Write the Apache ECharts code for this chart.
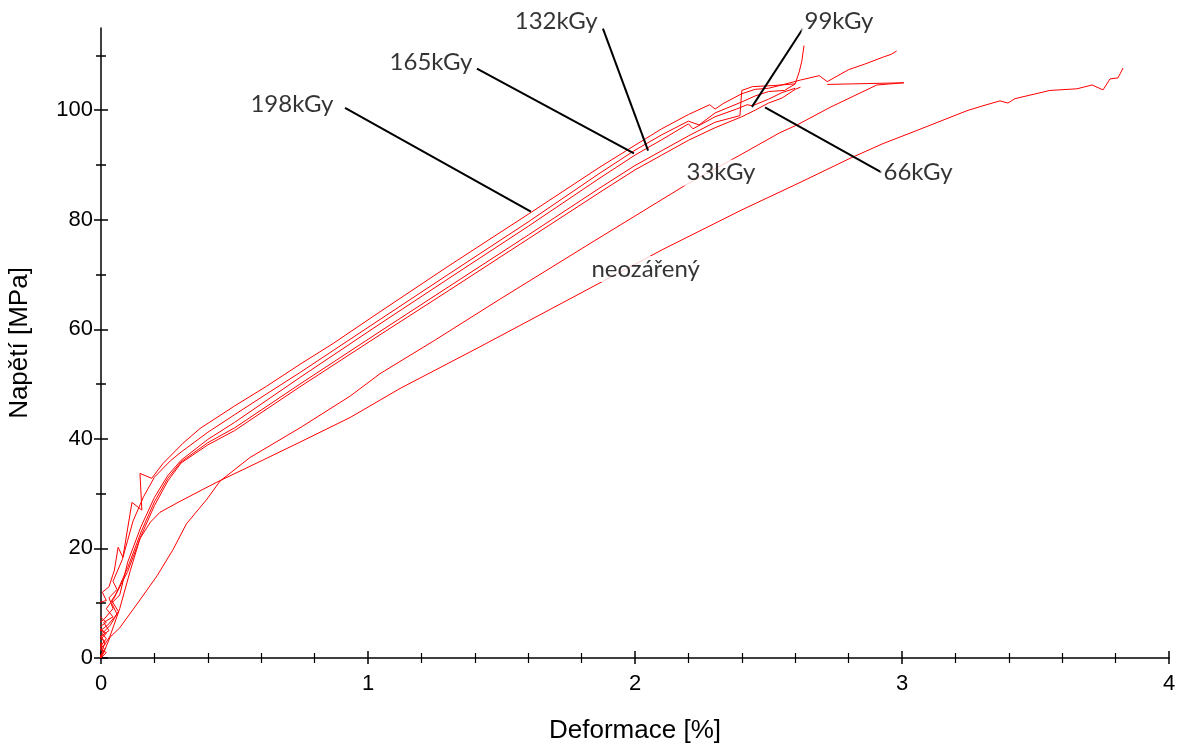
<!DOCTYPE html>
<html>
<head>
<meta charset="utf-8">
<title>Napětí - deformace</title>
<script src="https://cdn.jsdelivr.net/npm/echarts@6.0.0/dist/echarts.min.js"></script>
<style>
    html, body { margin: 0; padding: 0; background: #fff; }
    #main { width: 1181px; height: 746px; }
</style>
</head>
<body>
<div id="main"></div>
<script>
    // krivky [deformace %, napeti MPa]
    var curve198 = [[0,0],[-0.025,1.2],[0.005,2.5],[-0.02,3.2],[0.015,4.5],[-0.01,5.5],[0.02,6.5],[-0.025,8.5],[-0.015,10.0],[0.02,10.5],[0.005,12.0],[0.03,13.0],[0.05,16.0],[0.064,20.2],[0.082,18.4],[0.1,23.7],[0.116,28.4],[0.153,27.0],[0.146,33.7],[0.19,32.8],[0.232,35.5],[0.307,39.2],[0.371,41.9],[0.5,46.0],[0.62,49.6],[0.745,53.6],[0.869,57.4],[1.045,63.2],[1.3,71.5],[1.6,81.0],[1.865,89.5],[2.0,93.6],[2.1,96.6],[2.2,99.2],[2.28,101.0],[2.3,100.2],[2.33,101.2],[2.4,103.0],[2.45,103.8],[2.5,104.0],[2.55,104.6],[2.62,105.5],[2.69,106.3],[2.72,105.2],[2.8,107.4],[2.86,108.4],[2.93,109.7],[2.96,110.2],[2.98,110.8]];
    var curve165 = [[0,0.5],[0.015,1.5],[-0.01,3.0],[0.02,4.5],[-0.02,6.0],[0.01,7.0],[0.045,9.0],[0.03,11.0],[0.06,12.5],[0.045,14.0],[0.08,18.0],[0.1,21.5],[0.12,25.0],[0.16,29.5],[0.2,33.0],[0.26,36.0],[0.3,37.6],[0.4,41.2],[0.5,44.4],[0.62,48.2],[0.745,52.1],[1.045,61.8],[1.3,70.0],[1.6,79.6],[1.865,88.4],[2.0,92.7],[2.1,95.5],[2.2,98.0],[2.24,97.3],[2.3,99.5],[2.4,101.5],[2.45,102.6],[2.5,103.4],[2.56,103.6],[2.6,104.8],[2.615,107.0],[2.625,109.0],[2.633,111.8]];
    var curve132 = [[0,0],[0.02,1.0],[-0.01,2.0],[0.015,3.0],[-0.015,4.5],[0.025,6.0],[0.06,8.0],[0.04,10.0],[0.07,11.5],[0.1,17.5],[0.15,24.0],[0.2,29.3],[0.25,33.3],[0.3,36.1],[0.4,39.9],[0.5,43.0],[0.745,51.2],[1.045,61.0],[1.3,69.2],[1.6,78.8],[1.865,87.5],[2.0,91.8],[2.1,94.6],[2.2,97.5],[2.217,96.6],[2.3,98.8],[2.38,100.2],[2.42,101.0],[2.44,100.8],[2.5,102.0],[2.55,103.2],[2.6,104.0]];
    var curve99 = [[0,0],[-0.01,1.5],[0.015,2.5],[0,4.0],[0.03,5.0],[0.01,6.5],[0.045,7.5],[0.02,9.0],[0.05,11.0],[0.1,16.5],[0.15,23.0],[0.2,28.5],[0.25,32.8],[0.3,35.8],[0.4,39.3],[0.5,42.0],[0.745,50.0],[1.045,59.6],[1.3,67.7],[1.6,77.2],[1.865,85.7],[2.0,89.9],[2.1,92.6],[2.2,95.3],[2.3,97.8],[2.393,99.0],[2.40,103.6],[2.44,104.3],[2.52,104.5],[2.6,104.8]];
    var curve66 = [[0,0.5],[0.01,1.0],[-0.005,2.0],[0.02,3.5],[0.005,4.5],[0.035,6.0],[0.065,8.5],[0.04,10.5],[0.06,12.0],[0.1,15.8],[0.15,22.3],[0.2,27.8],[0.25,32.3],[0.3,35.6],[0.4,38.9],[0.5,41.5],[0.745,49.5],[1.045,59.0],[1.3,67.0],[1.6,76.5],[1.865,84.9],[2.0,89.1],[2.1,91.8],[2.2,94.5],[2.3,96.8],[2.4,98.8],[2.45,100.0],[2.5,101.3],[2.55,102.2],[2.6,103.8],[2.62,104.2]];
    var curve33 = [[0,0],[0.01,1.0],[0.034,3.8],[0.07,5.5],[0.146,10.6],[0.21,15.0],[0.27,19.8],[0.32,24.5],[0.397,29.0],[0.446,32.3],[0.558,36.6],[0.745,42.0],[0.933,47.8],[1.045,51.9],[1.25,58.0],[1.494,65.5],[1.843,76.0],[2.195,86.5],[2.386,91.6],[2.543,95.9],[2.607,97.3],[2.73,100.5],[2.82,102.6],[2.906,104.6],[3.007,105.0],[2.72,104.7]];
    var curve0 = [[0,0],[0.008,2.0],[0.034,4.0],[0.07,9.0],[0.11,16.0],[0.146,21.8],[0.185,24.8],[0.221,26.6],[0.296,28.6],[0.434,32.1],[0.584,35.6],[0.745,39.4],[0.933,43.9],[1.12,49.2],[1.419,56.8],[1.858,68.2],[2.105,74.6],[2.4,81.8],[2.618,86.8],[2.805,91.2],[2.929,93.9],[3.056,96.3],[3.243,99.9],[3.303,100.8],[3.367,101.7],[3.397,101.3],[3.423,102.1],[3.554,103.6],[3.655,103.9],[3.712,104.6],[3.753,103.7],[3.779,105.7],[3.809,105.9],[3.828,107.7]];

    // popisky a odkazove cary
    var labelNames = ['198kGy', '165kGy', '132kGy', '99kGy', '66kGy', '33kGy', 'neozářený'];
    var labelAt = [[0.715,101.0],[1.236,108.8],[1.705,116.2],[2.764,116.2],[3.06,88.6],[2.322,88.6],[2.04,71.0]];
    var leaders = [
        [[0.914,100.4],[1.610,81.5]],
        [[1.408,107.6],[1.996,92.1]],
        [[1.880,114.9],[2.049,92.6]],
        [[2.629,114.9],[2.438,100.6]],
        [[2.925,88.6],[2.487,100.5]]
    ];

    var xTicks = [0, 1, 2, 3, 4];
    var yMajor = [0, 20, 40, 60, 80, 100];
    var yMinor = [10, 30, 50, 70, 90, 110];

    var myChart = echarts.init(document.getElementById('main'));

    function redLine(name, data) {
        return {
            name: name, type: 'line', data: data, symbol: 'none', clip: false,
            lineStyle: { color: '#ff0000', width: 1 }, z: 2, silent: true
        };
    }
    function blackLine(data) {
        return {
            type: 'line', data: data, symbol: 'none', clip: false,
            lineStyle: { color: '#000', width: 2 }, z: 3, silent: true
        };
    }
    function yAx(ticks, len, inside, main) {
        var ax = {
            type: 'value', min: 0, max: 115, position: 'left',
            axisLine: { show: !!main, onZero: false, lineStyle: { color: '#000', width: 1.5 } },
            axisTick: { show: true, inside: inside, length: len, customValues: ticks, lineStyle: { color: '#000', width: 1.5 } },
            axisLabel: { show: false },
            splitLine: { show: false }
        };
        if (main) {
            ax.axisLabel = { show: true, customValues: yMajor, color: '#000', fontSize: 22,
                fontFamily: 'Liberation Sans', margin: 8, padding: [8, 0, 0, 0] };
            ax.name = 'Napětí [MPa]';
            ax.nameLocation = 'middle';
            ax.nameGap = 68;
            ax.nameRotate = 90;
            ax.nameTextStyle = { color: '#000', fontSize: 26, fontFamily: 'Liberation Sans' };
        }
        return ax;
    }

    var series = [
        redLine('198kGy', curve198),
        redLine('165kGy', curve165),
        redLine('132kGy', curve132),
        redLine('99kGy', curve99),
        redLine('66kGy', curve66),
        redLine('33kGy', curve33),
        redLine('neozářený', curve0)
    ];
    leaders.forEach(function (l) { series.push(blackLine(l)); });
    series.push({
        type: 'scatter', clip: false, silent: true, z: 10,
        symbolSize: 1, itemStyle: { color: 'rgba(0,0,0,0)' },
        data: labelAt.map(function (p, i) { return { name: labelNames[i], value: p }; }),
        label: {
            show: true, position: 'inside', formatter: '{b}', color: '#000',
            fontSize: 24, fontFamily: 'Lato', backgroundColor: '#fff', padding: [1, 3]
        }
    });

    var option = {
        animation: false,
        backgroundColor: '#fff',
        grid: { left: 101, right: 12, top: 28, bottom: 88, outerBoundsMode: 'none' },
        xAxis: [
            {
                type: 'value', min: 0, max: 4, interval: 1, position: 'bottom',
                axisLine: { show: true, onZero: false, lineStyle: { color: '#000', width: 1.5 } },
                axisTick: { show: true, length: 6, lineStyle: { color: '#000', width: 1.5 } },
                minorTick: { show: true, splitNumber: 5, length: 5, lineStyle: { color: '#000', width: 1.2 } },
                axisLabel: { color: '#000', fontSize: 22, fontFamily: 'Liberation Sans', margin: 15, customValues: xTicks },
                splitLine: { show: false },
                name: 'Deformace [%]', nameLocation: 'middle', nameGap: 60,
                nameTextStyle: { color: '#000', fontSize: 26, fontFamily: 'Liberation Sans' }
            },
            {
                type: 'value', min: 0, max: 4, interval: 1, position: 'bottom',
                axisLine: { show: false, onZero: false },
                axisTick: { show: true, inside: true, length: 7, lineStyle: { color: '#000', width: 1.5 } },
                minorTick: { show: true, splitNumber: 5, length: 5, lineStyle: { color: '#000', width: 1.2 } },
                axisLabel: { show: false },
                splitLine: { show: false }
            }
        ],
        yAxis: [
            yAx(yMajor, 7, false, true),
            yAx(yMajor, 7, true, false),
            yAx(yMinor, 5, false, false),
            yAx(yMinor, 5, true, false)
        ],
        series: series
    };
    myChart.setOption(option);
</script>
</body>
</html>
